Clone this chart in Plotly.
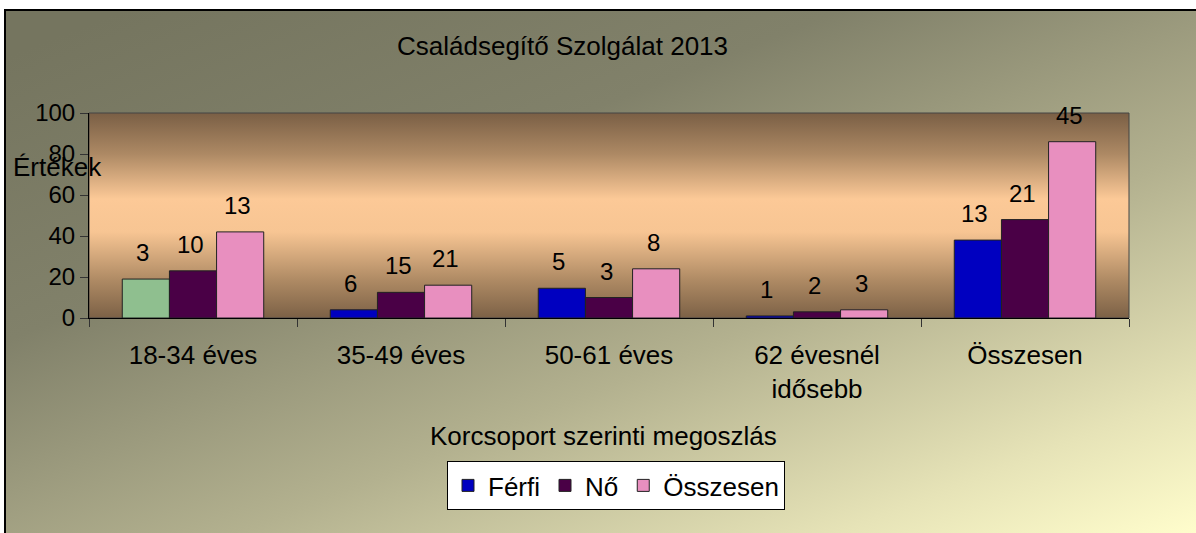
import base64
import plotly.graph_objects as go

# ---- data ----
categories = ["18-34 éves", "35-49 éves", "50-61 éves", "62 évesnél<br>idősebb", "Összesen"]
series_names = ["Férfi", "Nő", "Összesen"]
ferfi_values = [19, 4, 14.5, 1, 38]
no_values = [23, 12.5, 10, 3, 48]
osszesen_values = [42, 16, 24, 4, 86]
ferfi_labels = ["3", "6", "5", "1", "13"]
no_labels = ["10", "15", "3", "2", "21"]
osszesen_labels = ["13", "21", "8", "3", "45"]
y_ticks = [0, 20, 40, 60, 80, 100]

# ---- geometry (px) ----
W, H = 1196, 533
L, R, T, B = 89, 1196 - 1129, 113, 533 - 318
PW, PH = W - L - R, H - T - B
BARGAP = 0.32
BAR_W = PW / len(categories) * (1 - BARGAP) / 3


def px_x(px):
    return (px - L) / PW


def px_y(py):
    return (H - B - py) / PH


def svg_uri(svg):
    return "data:image/svg+xml;base64," + base64.b64encode(svg.encode()).decode()


outer_svg = """<svg xmlns='http://www.w3.org/2000/svg' width='100' height='100' preserveAspectRatio='none'>
<defs><linearGradient id='g' x1='0.1' y1='0' x2='1' y2='1'>
<stop offset='0' stop-color='#75755f'/>
<stop offset='0.3' stop-color='#81816a'/>
<stop offset='0.6' stop-color='#b3b18f'/>
<stop offset='0.85' stop-color='#e6e3b7'/>
<stop offset='1' stop-color='#fffdcc'/>
</linearGradient></defs>
<rect width='100' height='100' fill='url(#g)'/></svg>"""

inner_svg = """<svg xmlns='http://www.w3.org/2000/svg' width='100' height='100' preserveAspectRatio='none'>
<defs><linearGradient id='g' x1='0' y1='0' x2='0' y2='1'>
<stop offset='0' stop-color='#7a5f45'/>
<stop offset='0.2' stop-color='#ad8964'/>
<stop offset='0.42' stop-color='#fcc997'/>
<stop offset='0.58' stop-color='#f7c593'/>
<stop offset='0.82' stop-color='#ad8963'/>
<stop offset='1' stop-color='#7c6146'/>
</linearGradient></defs>
<rect width='100' height='100' fill='url(#g)'/></svg>"""

FONT = "Arial, Liberation Sans, sans-serif"
FS = 26
LABEL_FS = 24

series = [
    ("Férfi", ferfi_values, ferfi_labels, ["#8fbf8f", "#0000c0", "#0000c0", "#0000c0", "#0000c0"], -1, "f"),
    ("Nő", no_values, no_labels, "#4a0046", 0, "n"),
    ("Összesen", osszesen_values, osszesen_labels, "#e88fbf", 1, "o"),
]

fig = go.Figure()
annotations = []
for i, (name, vals, labs, col, pos, grp) in enumerate(series):
    fig.add_trace(go.Bar(
        name=name, x=categories, y=vals, offsetgroup=grp,
        marker=dict(color=col, line=dict(color="#222222", width=1)),
        showlegend=(name != "Férfi"), legendrank=i + 1,
    ))
    for c, v, lab in zip(categories, vals, labs):
        annotations.append(dict(
            text=lab, x=c, y=v, xref="x", yref="y", showarrow=False,
            xshift=pos * BAR_W - 3, yshift=11, yanchor="bottom", xanchor="center",
            font=dict(family=FONT, size=LABEL_FS, color="black")))

# legend entry for Férfi (blue swatch), sharing the Férfi offset group
fig.add_trace(go.Bar(name="Férfi", x=[categories[0]], y=[None], offsetgroup="f",
                     marker=dict(color="#0000c0", line=dict(color="#222", width=1)),
                     legendrank=1, showlegend=True, hoverinfo="skip"))

annotations += [
    dict(text="Családsegítő Szolgálat 2013", xref="paper", yref="paper",
         x=px_x(562), y=px_y(46), xanchor="center", yanchor="middle",
         showarrow=False, font=dict(family=FONT, size=FS)),
    dict(text="Értékek", xref="paper", yref="paper", x=px_x(57), y=px_y(167),
         xanchor="center", yanchor="middle",
         showarrow=False, font=dict(family=FONT, size=FS)),
    dict(text="Korcsoport szerinti megoszlás", xref="paper", yref="paper",
         x=px_x(603), y=px_y(436), xanchor="center", yanchor="middle",
         showarrow=False, font=dict(family=FONT, size=FS)),
]

fig.update_layout(
    width=W, height=H,
    margin=dict(l=L, r=R, t=T, b=B),
    paper_bgcolor="white",
    plot_bgcolor="rgba(0,0,0,0)",
    barmode="group", bargap=BARGAP, bargroupgap=0,
    font=dict(family=FONT, size=FS, color="black"),
    showlegend=True,
    legend=dict(orientation="h", x=px_x(616), y=px_y(461), xanchor="center", yanchor="top",
                bgcolor="white", bordercolor="black", borderwidth=1,
                font=dict(family=FONT, size=FS), traceorder="normal",
                itemwidth=30, tracegroupgap=0),
    xaxis=dict(showgrid=False, showline=True, linecolor="black", linewidth=1,
               ticks="outside", ticklen=8, tickcolor="#333", tickson="boundaries",
               ticklabelstandoff=14,
               tickfont=dict(family=FONT, size=FS), range=[-0.5, 4.5]),
    yaxis=dict(range=[0, 100], tickvals=y_ticks, showgrid=False, zeroline=False,
               showline=True, linecolor="black", linewidth=1,
               ticks="outside", ticklen=8, tickcolor="#333",
               tickfont=dict(family=FONT, size=24)),
    images=[
        dict(source=svg_uri(outer_svg), xref="paper", yref="paper",
             x=px_x(5), y=px_y(10), sizex=px_x(W) - px_x(5), sizey=px_y(10) - px_y(H),
             xanchor="left", yanchor="top", sizing="stretch", layer="below"),
        dict(source=svg_uri(inner_svg), xref="paper", yref="paper",
             x=0, y=1, sizex=1, sizey=1,
             xanchor="left", yanchor="top", sizing="stretch", layer="below"),
    ],
    shapes=[
        dict(type="rect", xref="paper", yref="paper", x0=px_x(5), x1=px_x(W + 5),
             y0=px_y(H + 5), y1=px_y(10), line=dict(color="black", width=2), layer="above"),
        dict(type="rect", xref="paper", yref="paper", x0=0, x1=1, y0=0, y1=1,
             line=dict(color="#444444", width=1), layer="below"),
    ],
    annotations=annotations,
)

fig.write_html("out.html", config={"displayModeBar": False},
               post_script="document.body.style.margin='0';document.body.style.overflow='hidden';")
